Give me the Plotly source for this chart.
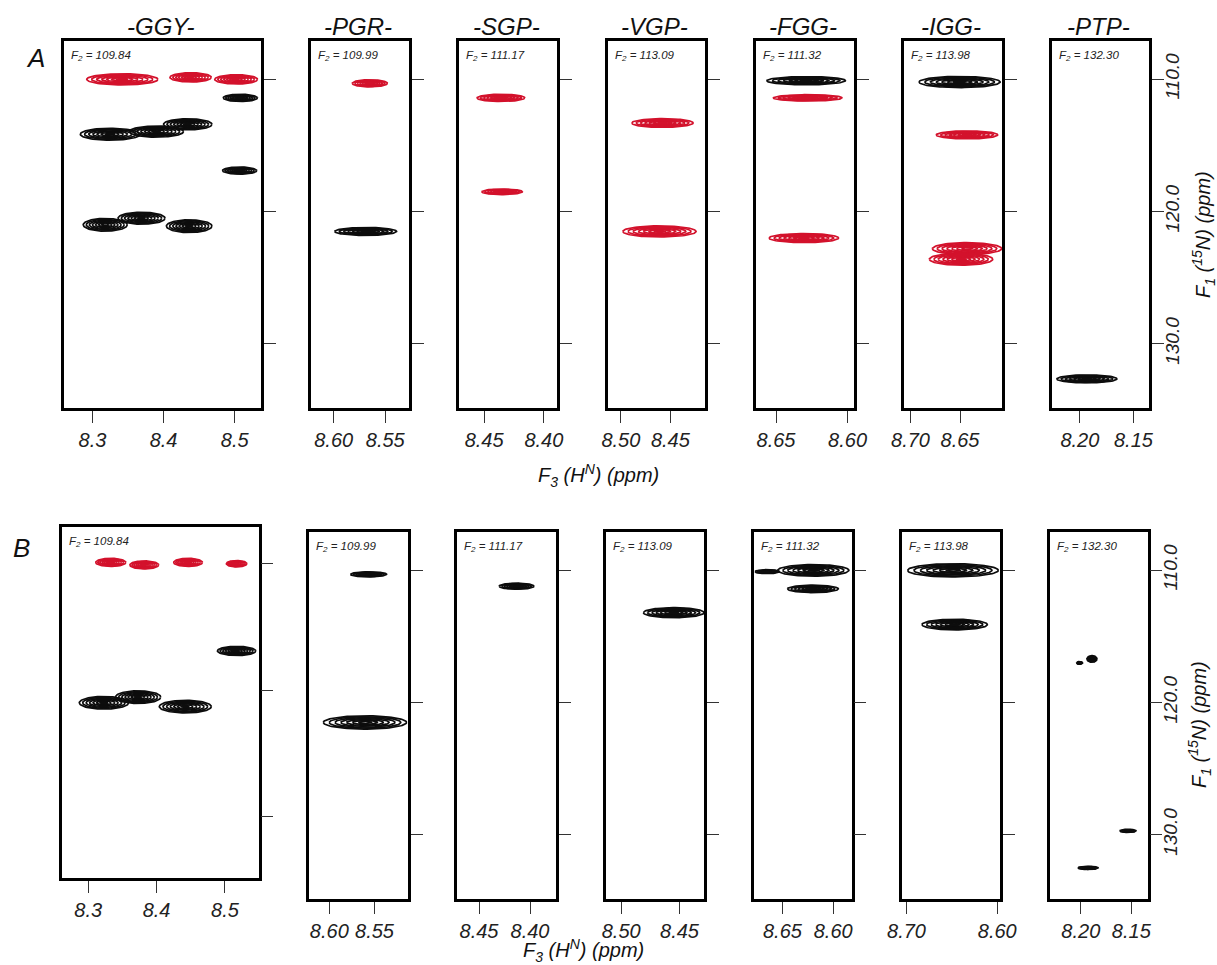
import numpy as np
import plotly.graph_objects as go

W, H = 1217, 965

# ---------------- data ----------------
residues = ["-GGY-", "-PGR-", "-SGP-", "-VGP-", "-FGG-", "-IGG-", "-PTP-"]
f2_values = ["109.84", "109.99", "111.17", "113.09", "111.32", "113.98", "132.30"]

xticks_A = [[8.3, 8.4, 8.5], [8.60, 8.55], [8.45, 8.40], [8.50, 8.45], [8.65, 8.60], [8.70, 8.65], [8.20, 8.15]]
xticks_B = [[8.3, 8.4, 8.5], [8.60, 8.55], [8.45, 8.40], [8.50, 8.45], [8.65, 8.60], [8.70, 8.60], [8.20, 8.15]]
xtick_decimals = [1, 2, 2, 2, 2, 2, 2]

# 1H ppm window of each strip (left edge, right edge)
xrange_A = [(8.260, 8.537), (8.622, 8.527), (8.471, 8.389), (8.513, 8.415), (8.664, 8.5955), (8.7066, 8.6076), (8.226, 8.1355)]
xrange_B = [(8.261, 8.549), (8.623, 8.513), (8.4716, 8.3745), (8.513, 8.429), (8.678, 8.582), (8.705, 8.597), (8.231, 8.134)]

n_range = (134.85, 107.1)
n_ticks = [110, 120, 130]
n_ticklabels = ["110.0", "120.0", "130.0"]

# peaks: (1H ppm, 15N ppm, 1H half-width, 15N half-width, sign)  sign +1 = red, -1 = black
A_GGY = [(8.342, 110.0, 0.050, 0.42, +1), (8.438, 109.85, 0.029, 0.35, +1), (8.502, 110.0, 0.030, 0.35, +1),
         (8.508, 111.4, 0.024, 0.27, -1), (8.325, 114.15, 0.042, 0.45, -1), (8.390, 113.95, 0.038, 0.42, -1),
         (8.434, 113.4, 0.034, 0.42, -1), (8.507, 116.9, 0.024, 0.27, -1), (8.318, 121.0, 0.031, 0.48, -1),
         (8.369, 120.5, 0.033, 0.45, -1), (8.436, 121.1, 0.032, 0.48, -1)]
A_PGR = [(8.565, 110.3, 0.017, 0.27, +1), (8.569, 121.5, 0.030, 0.30, -1)]
A_SGP = [(8.436, 111.4, 0.020, 0.27, +1), (8.435, 118.5, 0.017, 0.21, +1)]
A_VGP = [(8.458, 113.3, 0.031, 0.33, +1), (8.461, 121.5, 0.037, 0.42, +1)]
A_FGG = [(8.629, 110.1, 0.0275, 0.31, -1), (8.628, 111.4, 0.024, 0.24, +1), (8.6306, 122.0, 0.0243, 0.34, +1)]
A_IGG = [(8.6505, 110.2, 0.041, 0.42, -1), (8.643, 114.2, 0.031, 0.30, +1),
         (8.643, 122.8, 0.035, 0.45, +1), (8.649, 123.6, 0.032, 0.45, +1)]
A_PTP = [(8.1935, 132.65, 0.028, 0.30, -1)]

B_GGY = [(8.333, 109.9, 0.022, 0.32, +1), (8.382, 110.1, 0.021, 0.32, +1), (8.446, 109.9, 0.021, 0.32, +1),
         (8.517, 110.0, 0.015, 0.25, +1), (8.517, 116.9, 0.028, 0.36, -1), (8.323, 121.0, 0.036, 0.50, -1),
         (8.373, 120.55, 0.033, 0.50, -1), (8.442, 121.3, 0.038, 0.50, -1)]
B_PGR = [(8.5567, 110.3, 0.020, 0.19, -1), (8.5606, 121.5, 0.046, 0.50, -1)]
B_SGP = [(8.4132, 111.2, 0.017, 0.23, -1)]
B_VGP = [(8.455, 113.2, 0.026, 0.38, -1)]
B_FGG = [(8.6196, 110.0, 0.035, 0.44, -1), (8.665, 110.1, 0.012, 0.15, -1), (8.620, 111.4, 0.025, 0.28, -1)]
B_IGG = [(8.6489, 110.0, 0.050, 0.50, -1), (8.647, 114.1, 0.036, 0.40, -1)]
B_PTP = [(8.2013, 117.0, 0.003, 0.10, -1), (8.189, 116.7, 0.005, 0.25, -1),
         (8.1534, 129.7, 0.008, 0.12, -1), (8.1929, 132.5, 0.010, 0.12, -1)]

peaks_A = [A_GGY, A_PGR, A_SGP, A_VGP, A_FGG, A_IGG, A_PTP]
peaks_B = [B_GGY, B_PGR, B_SGP, B_VGP, B_FGG, B_IGG, B_PTP]

# ---------------- layout (pixel boxes) ----------------
box_x_A = [(64, 261), (311, 409), (459, 557), (608, 705), (756, 854), (904, 1002), (1052, 1149)]
box_y_A = [(41, 408)] * 7
box_x_B = [(61.5, 258.5), (308.5, 408), (457, 556), (606, 704), (754, 851.5), (902, 1000), (1049.5, 1147.5)]
box_y_B = [(527, 878)] + [(532, 899)] * 6

RED = "#d3122c"
BLACK = "#0d0d0d"
LEVELS = [1.0, 0.86, 0.72, 0.58, 0.44, 0.30, 0.16]
FONT = "Liberation Sans"
t = np.linspace(0, 2 * np.pi, 90)


def contours(peaks, sign):
    xs, ys = [], []
    for (h, n, dh, dn, s) in peaks:
        if s != sign:
            continue
        for lev in LEVELS:
            xs += list(h + lev * dh * np.cos(t)) + [None]
            ys += list(n + lev * dn * np.sin(t)) + [None]
    return xs, ys


def px_x(v):
    return v / W


def px_y(v):
    return 1 - v / H


fig = go.Figure()
annotations = []
idx = 0
for row, (peaks_row, xr_row, xt_row, bx_row, by_row) in enumerate(
        [(peaks_A, xrange_A, xticks_A, box_x_A, box_y_A),
         (peaks_B, xrange_B, xticks_B, box_x_B, box_y_B)]):
    for c in range(7):
        idx += 1
        xa = "x" if idx == 1 else f"x{idx}"
        ya = "y" if idx == 1 else f"y{idx}"
        for sign, col in [(-1, BLACK), (+1, RED)]:
            xs, ys = contours(peaks_row[c], sign)
            if xs:
                fig.add_trace(go.Scatter(x=xs, y=ys, mode="lines", xaxis=xa, yaxis=ya,
                                         line=dict(color=col, width=1.7), hoverinfo="skip",
                                         showlegend=False))
        x0, x1 = bx_row[c]
        y0, y1 = by_row[c]
        dec = xtick_decimals[c]
        fig.layout[f"xaxis{'' if idx == 1 else idx}"] = dict(
            domain=[px_x(x0), px_x(x1)], range=list(xr_row[c]), anchor=ya, automargin=False,
            showline=True, mirror=True, linecolor="black", linewidth=2.5,
            ticks="outside", ticklen=12, tickwidth=1.2, tickcolor="#333",
            tickvals=xt_row[c], ticktext=[f"{v:.{dec}f}" for v in xt_row[c]],
            tickfont=dict(family=FONT, size=20, color="#222", style="italic"),
            showgrid=False, zeroline=False, fixedrange=True)
        fig.layout[f"yaxis{'' if idx == 1 else idx}"] = dict(
            domain=[px_y(y1), px_y(y0)], range=list(n_range), anchor=xa, side="right", automargin=False,
            showline=True, mirror=True, linecolor="black", linewidth=2.5,
            ticks="outside", ticklen=12, tickwidth=1.2, tickcolor="#333",
            tickvals=n_ticks, ticktext=n_ticklabels, showticklabels=(c == 6), tickangle=-90,
            ticklabelstandoff=-8,
            tickfont=dict(family=FONT, size=19, color="#222", style="italic"),
            showgrid=False, zeroline=False, fixedrange=True)
        # F2 label
        annotations.append(dict(
            x=px_x(x0 + 5), y=px_y(y0 + 15), xref="paper", yref="paper", xanchor="left", yanchor="middle",
            text=f"F<sub>2</sub> = {f2_values[c]}", showarrow=False,
            font=dict(family=FONT, size=11.5, color="#222", style="italic")))
        if row == 0:
            annotations.append(dict(
                x=px_x((x0 + x1) / 2 - 2), y=px_y(26), xref="paper", yref="paper", xanchor="center",
                yanchor="middle", text=residues[c], showarrow=False,
                font=dict(family=FONT, size=24, color="#111", style="italic")))

# panel letters
annotations.append(dict(x=px_x(35), y=px_y(58), xref="paper", yref="paper", text="A", showarrow=False,
                        xanchor="center", yanchor="middle",
                        font=dict(family=FONT, size=26, color="#111", style="italic")))
annotations.append(dict(x=px_x(21), y=px_y(548), xref="paper", yref="paper", text="B", showarrow=False,
                        xanchor="center", yanchor="middle",
                        font=dict(family=FONT, size=26, color="#111", style="italic")))
# axis titles
for (xc, yc) in [(598, 475), (583, 950)]:
    annotations.append(dict(x=px_x(xc), y=px_y(yc), xref="paper", yref="paper", showarrow=False,
                            text="F<sub>3</sub> (H<sup>N</sup>) (ppm)", xanchor="center", yanchor="middle",
                            font=dict(family=FONT, size=20, color="#111", style="italic")))
for (xc, yc) in [(1204, 235), (1199, 725)]:
    annotations.append(dict(x=px_x(xc), y=px_y(yc), xref="paper", yref="paper", showarrow=False,
                            text="F<sub>1</sub> (<sup>15</sup>N) (ppm)", textangle=-90,
                            xanchor="center", yanchor="middle",
                            font=dict(family=FONT, size=20, color="#111", style="italic")))

fig.update_layout(width=W, height=H, autosize=False, margin=dict(l=0, r=0, t=0, b=0),
                  paper_bgcolor="white", plot_bgcolor="white", annotations=annotations,
                  showlegend=False)

fig.write_html("out.html")
